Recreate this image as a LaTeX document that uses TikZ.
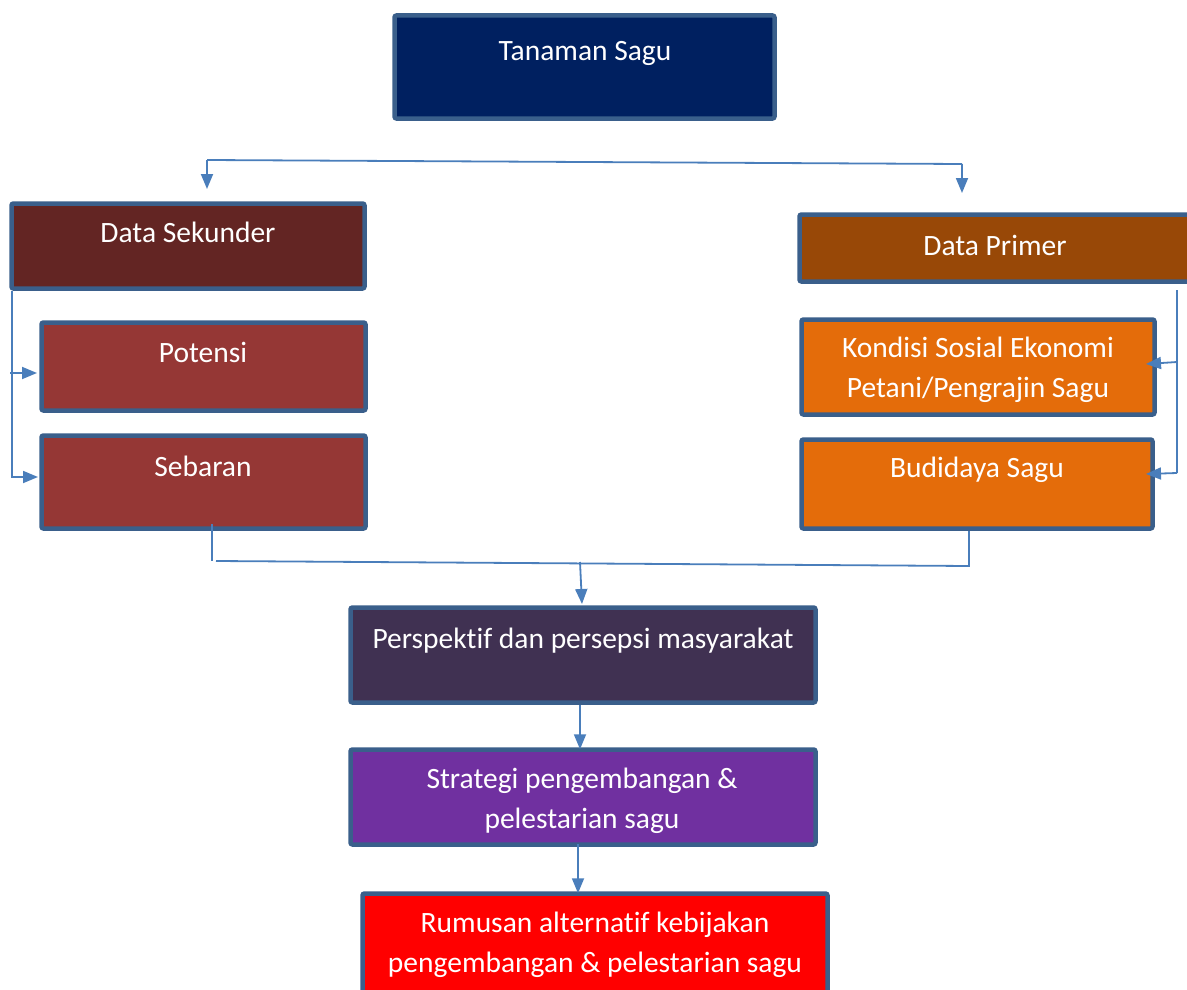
\documentclass[tikz,border=0pt]{standalone}
\usepackage{fontspec}
\setmainfont[Ligatures=NoCommon]{Carlito}
\usetikzlibrary{arrows.meta}
\definecolor{bordc}{HTML}{3A5F8B}
\definecolor{linec}{HTML}{4A7EBB}
\definecolor{cTop}{HTML}{002060}
\definecolor{cSek}{HTML}{632523}
\definecolor{cPrim}{HTML}{984807}
\definecolor{cPot}{HTML}{953735}
\definecolor{cKon}{HTML}{E46C0A}
\definecolor{cPer}{HTML}{403152}
\definecolor{cStr}{HTML}{7030A0}
\definecolor{cRum}{HTML}{FF0000}
\tikzset{
  box/.style={draw=bordc, line width=4.5pt, rounded corners=2pt, inner sep=0pt},
  lbl/.style={text=white, align=center, font=\fontsize{29.5}{40}\selectfont, inner sep=0pt},
  conn/.style={draw=linec, line width=1.8pt},
  arr/.style={conn, -{Triangle[length=15pt,width=12pt]}}
}
\begin{document}
\begin{tikzpicture}[x=1pt,y=-1pt]
\useasboundingbox (0,0) rectangle (1187,990);
% boxes
\node[box, fill=cTop, minimum width=380pt, minimum height=103pt] (top) at (584.5,67) {};
\node[box, fill=cSek, minimum width=353pt, minimum height=85pt] (sek) at (188,246) {};
\node[box, fill=cPrim, minimum width=391pt, minimum height=67pt] (prim) at (995,248) {};
\node[box, fill=cPot, minimum width=324pt, minimum height=88pt] (pot) at (203.5,366.5) {};
\node[box, fill=cPot, minimum width=324pt, minimum height=93pt] (seb) at (203.5,482) {};
\node[box, fill=cKon, minimum width=353pt, minimum height=95pt] (kon) at (978,367) {};
\node[box, fill=cKon, minimum width=351pt, minimum height=89pt] (bud) at (977,484) {};
\node[box, fill=cPer, minimum width=465pt, minimum height=95pt] (per) at (583,655) {};
\node[box, fill=cStr, minimum width=465pt, minimum height=95pt] (str) at (583,797) {};
\node[box, fill=cRum, minimum width=465pt, minimum height=103pt] (rum) at (595,945) {};
% texts
\node[lbl] (ttop) at (585,53) {Tanaman Sagu};
\node[lbl] (tsek) at (188,232) {Data Sekunder};
\node[lbl] (tprim) at (995,245) {Data Primer};
\node[lbl] (tpot) at (203,352) {Potensi};
\node[lbl] (tseb) at (203,466) {Sebaran};
\node[lbl] (tkon) at (978,370) {Kondisi Sosial Ekonomi\\Petani/Pengrajin Sagu};
\node[lbl] (tbud) at (977,470) {Budidaya Sagu};
\node[lbl] (tper) at (583,641) {Perspektif dan persepsi masyarakat};
\node[lbl] (tstr) at (582,801) {Strategi pengembangan \&\\pelestarian sagu};
\node[lbl] (trum) at (595,945) {Rumusan alternatif kebijakan\\pengembangan \& pelestarian sagu};
% coordinates for connectors
\coordinate (tl) at (207,160);
\coordinate (tr) at (962,164);
\coordinate (tlE) at (207,189);
\coordinate (trE) at (962,193);
\coordinate (l0) at (12,291);
\coordinate (l1) at (12,478);
\coordinate (la) at (10,373);
\coordinate (laE) at (37,373);
\coordinate (lb) at (12,477);
\coordinate (lbE) at (38,477);
\coordinate (r0) at (1177,290);
\coordinate (r1) at (1177,473);
\coordinate (raE) at (1146,364);
\coordinate (rbE) at (1146,474);
\coordinate (ra) at (1177,362);
\coordinate (b0) at (212,524);
\coordinate (b1) at (212,561);
\coordinate (b2) at (216,561);
\coordinate (b3) at (969,566);
\coordinate (b4) at (969,531);
\coordinate (bm) at (580,562);
\coordinate (bmE) at (582,604);
% connectors
\draw[conn] (tl) -- (tr);
\draw[arr] (tl) -- (tlE);
\draw[arr] (tr) -- (trE);
\draw[conn] (l0) -- (l1);
\draw[arr] (la) -- (laE);
\draw[arr] (lb) -- (lbE);
\draw[conn] (r0) -- (r1);
\draw[arr] (ra) -- (raE);
\draw[arr] (r1) -- (rbE);
\draw[conn] (b0) -- (b1);
\draw[conn] (b2) -- (b3) -- (b4);
\draw[arr] (bm) -- (bmE);
\draw[arr] ([xshift=-3pt]per.south) -- ([xshift=-3pt,yshift=-2pt]str.north);
\draw[arr] ([xshift=-5pt,yshift=3pt]str.south) -- ([xshift=-17pt,yshift=-2pt]rum.north);
\end{tikzpicture}
\end{document}
